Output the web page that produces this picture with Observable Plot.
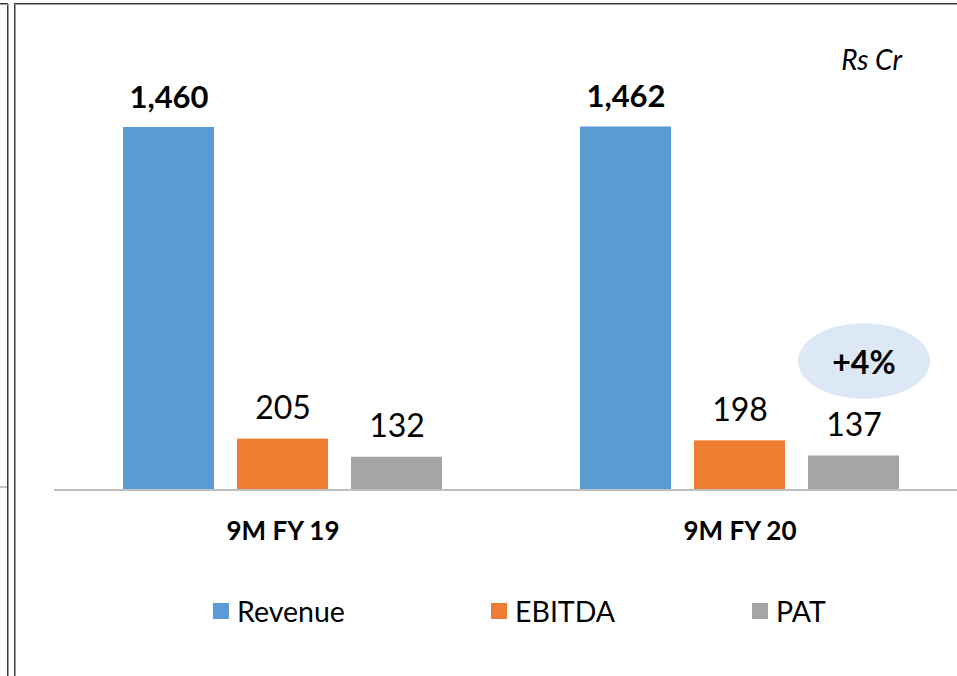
<!DOCTYPE html>
<html>
<head>
<meta charset="utf-8">
<script src="https://cdn.jsdelivr.net/npm/d3@7"></script>
<script src="https://cdn.jsdelivr.net/npm/@observablehq/plot@0.6"></script>
<style>
  body { margin: 0; background: #fff; font-family: Lato, "Open Sans", sans-serif; }
  #wrap { position: relative; width: 957px; height: 676px; overflow: hidden; background: #fff; }
  #chart { position: absolute; left: 0; top: 0; }
  .ln { position: absolute; }
  .dark { background: #3c3c3c; }
  .grey { background: #9c9c9c; }
  #unit { position: absolute; right: 55px; top: 42px; font-size: 28px; font-style: italic; color: #000; }
  #bubble { position: absolute; left: 798px; top: 323px; width: 132px; height: 76px; border-radius: 50%; background: #DCE8F5;
            display: flex; align-items: center; justify-content: center; font-size: 32px; font-weight: bold; color: #000; }
  .leg { position: absolute; top: 596px; height: 30px; display: flex; align-items: center; font-size: 28.5px; color: #000; }
  .sw { width: 16px; height: 16px; margin-right: 8px; }
</style>
</head>
<body>
<div id="wrap">
  <div id="chart"></div>
  <!-- frame lines -->
  <div class="ln dark" style="left:7px;top:3px;width:1px;height:673px"></div>
  <div class="ln grey" style="left:8px;top:4px;width:1px;height:672px"></div>
  <div class="ln dark" style="left:0;top:3px;width:8px;height:1px"></div>
  <div class="ln grey" style="left:0;top:4px;width:8px;height:1px"></div>
  <div class="ln grey" style="left:0;top:486px;width:7px;height:2px;opacity:0.6"></div>
  <div class="ln dark" style="left:14px;top:3px;width:1px;height:673px"></div>
  <div class="ln grey" style="left:15px;top:4px;width:1px;height:672px"></div>
  <div class="ln dark" style="left:14px;top:3px;width:943px;height:1px"></div>
  <div class="ln grey" style="left:15px;top:4px;width:942px;height:1px"></div>
  <div id="unit">Rs Cr</div>
  <div id="bubble">+4%</div>
  <div id="legend"></div>
</div>
<script>
const periods = ["9M FY 19", "9M FY 20"];
const series = ["Revenue", "EBITDA", "PAT"];
const revenue = [1460, 1462];
const ebitda = [205, 198];
const pat = [132, 137];
const colors = ["#5B9BD5", "#ED7D31", "#A5A5A5"];

const values = {Revenue: revenue, EBITDA: ebitda, PAT: pat};
const rows = [];
periods.forEach((p, i) => series.forEach(s => rows.push({period: p, series: s, value: values[s][i]})));
const fmt = d3.format(",");

const chart = Plot.plot({
  width: 957,
  height: 560,
  marginTop: 127,
  marginBottom: 70.5,
  marginLeft: 54,
  marginRight: 0,
  style: {fontFamily: "Lato, 'Open Sans', sans-serif", background: "transparent", color: "#000", overflow: "visible"},
  fx: {domain: periods, range: [54, 968], padding: 0, label: null},
  x: {domain: series, paddingInner: 0.2018, paddingOuter: 0.605, axis: null},
  y: {domain: [0, 1460], axis: null},
  color: {domain: series, range: colors},
  marks: [
    Plot.barY(rows, {fx: "period", x: "series", y: "value", fill: "series"}),
    Plot.ruleY([0], {stroke: "#BFBFBF", strokeWidth: 2}),
    Plot.text(rows.filter(d => d.series === "Revenue"), {
      fx: "period", x: "series", y: "value", text: d => fmt(d.value),
      lineAnchor: "bottom", dy: -20, fontSize: 31, fontWeight: "bold", fill: "#000"
    }),
    Plot.text(rows.filter(d => d.series !== "Revenue"), {
      fx: "period", x: "series", y: "value", text: d => fmt(d.value),
      lineAnchor: "bottom", dy: -20, fontSize: 32, fill: "#000"
    }),
    Plot.axisFx({anchor: "bottom", tickSize: 0, tickPadding: 32, fontSize: 26, fontWeight: "bold", label: null})
  ]
});
document.getElementById("chart").appendChild(chart);

const legLeft = [213, 491, 752];
const legend = document.getElementById("legend");
series.forEach((s, i) => {
  const item = document.createElement("div");
  item.className = "leg";
  item.style.left = legLeft[i] + "px";
  item.innerHTML = `<span class="sw" style="background:${colors[i]}"></span><span>${s}</span>`;
  legend.appendChild(item);
});
</script>
</body>
</html>
